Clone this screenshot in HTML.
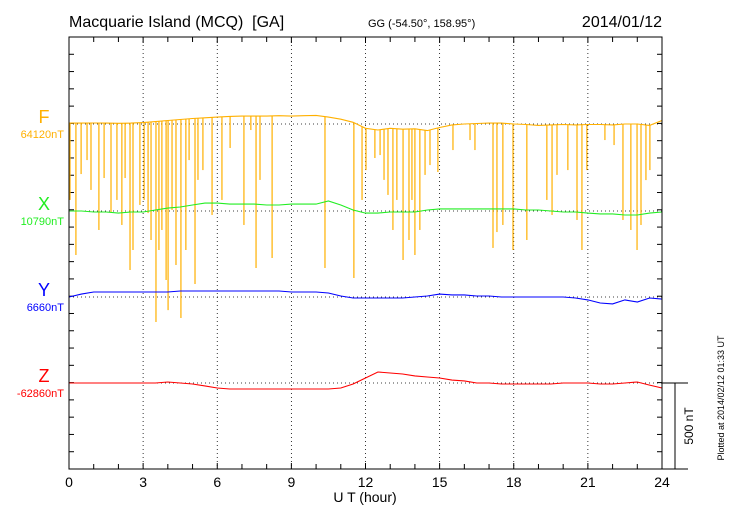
<!DOCTYPE html>
<html><head><meta charset="utf-8"><style>
body{margin:0;background:#fff;width:730px;height:520px;overflow:hidden;font-family:"Liberation Sans",sans-serif}
svg text{font-family:"Liberation Sans",sans-serif;white-space:pre}
</style></head><body>
<svg id="chart" width="730" height="520" xmlns="http://www.w3.org/2000/svg">
<text x="69" y="27" font-size="16" xml:space="preserve">Macquarie Island (MCQ)  [GA]</text>
<text x="368" y="27" font-size="11">GG (-54.50°, 158.95°)</text>
<text x="662" y="27" font-size="16" text-anchor="end">2014/01/12</text>
<text x="365" y="502" font-size="14" text-anchor="middle">U T (hour)</text>
<text transform="translate(724,398) rotate(-90)" font-size="9" text-anchor="middle">Plotted at 2014/02/12 01:33 UT</text>
<g id="g"></g>
</svg>
<script>
const hours=[0,0.5,1,1.5,2,2.5,3,3.5,4,4.5,5,5.5,6,6.5,7,7.5,8,8.5,9,9.5,10,10.5,11,11.5,12,12.5,13,13.5,14,14.5,15,15.5,16,16.5,17,17.5,18,18.5,19,19.5,20,20.5,21,21.5,22,22.5,23,23.5,24];
const fValues=[5,5,6,5,4,5,8,14,20,26,32,36,40,44,46,46,46,48,46,48,50,40,28,10,-25,-35,-25,-30,-28,-38,-20,-5,0,3,5,5,0,-3,-8,-5,-3,-5,-3,-3,-5,0,0,-8,20];
const xValues=[0,0,-6,-6,-12,-6,-6,6,17,23,35,46,46,40,40,40,35,35,40,40,40,58,35,6,-12,-12,-6,-6,-6,6,12,12,12,12,12,12,12,6,6,0,-6,-6,-12,-17,-17,-23,-23,-12,-6];
const yValues=[0,17,29,29,29,29,29,29,29,35,35,35,35,35,35,35,35,35,29,29,29,23,6,-6,-6,-6,-6,-6,0,6,17,12,12,6,6,0,0,0,0,0,0,-6,-17,-35,-40,-17,-29,-6,-12];
const zValues=[0,0,0,0,0,0,0,0,6,0,-6,-17,-29,-35,-35,-35,-35,-35,-35,-35,-35,-35,-29,-6,29,64,58,52,41,35,29,17,12,0,0,-6,-6,-6,-6,-6,0,0,0,-6,-6,0,6,-12,-29];
const spikeHours=[0.04,0.28,0.49,0.73,0.89,1.21,1.42,1.70,1.94,2.14,2.27,2.47,2.59,2.87,3.04,3.20,3.32,3.52,3.64,3.76,3.93,4.01,4.17,4.33,4.53,4.73,4.86,5.10,5.22,5.42,5.79,6.19,6.52,7.08,7.36,7.57,7.73,8.22,10.36,11.53,11.86,12.02,12.38,12.59,12.75,12.91,13.11,13.27,13.52,13.76,13.88,14.00,14.20,14.41,14.61,14.93,15.54,16.23,16.43,17.16,17.32,17.56,17.97,18.53,19.34,19.55,19.75,20.19,20.56,20.76,20.96,21.69,22.06,22.42,22.74,22.99,23.15,23.35,23.51];
const spikeMins=[-440,-759,-290,-209,-382,-614,-313,-510,-440,-585,-313,-846,-730,-469,-440,-516,-672,-1147,-730,-614,-904,-1078,-498,-817,-1124,-730,-209,-927,-324,-267,-527,-440,-139,-585,-35,-834,-324,-776,-834,-892,-440,-267,-197,-180,-324,-411,-614,-440,-788,-672,-440,-759,-614,-295,-238,-278,-151,-93,-151,-718,-626,-585,-730,-672,-440,-527,-295,-267,-556,-730,-267,-93,-122,-556,-614,-730,-585,-325,-267];
const xTicks=[0,3,6,9,12,15,18,21,24];
const series=[
 {name:'F',base:'64120nT',vals:fValues,color:'#ffb000',by:124},
 {name:'X',base:'10790nT',vals:xValues,color:'#22ee22',by:211},
 {name:'Y',base:'6660nT',vals:yValues,color:'#0000ff',by:297},
 {name:'Z',base:'-62860nT',vals:zValues,color:'#ff0000',by:383}];
const L=69,R=662,T=37,B=469,K=86.3/500;
const sx=h=>L+h/24*(R-L);
const NS='http://www.w3.org/2000/svg';
const g=document.getElementById('g');
function el(t,a){const e=document.createElementNS(NS,t);for(const k in a)e.setAttribute(k,a[k]);g.appendChild(e);return e;}
function interp(arr,h){const i=Math.min(Math.floor(h/0.5),arr.length-2);const f=(h-hours[i])/0.5;return arr[i]+(arr[i+1]-arr[i])*f;}
xTicks.slice(1,-1).forEach(h=>{const e=el('line',{x1:sx(h),x2:sx(h),y1:T,y2:B,stroke:'#000','stroke-width':0.8,'stroke-dasharray':'1,3'});

});
series.forEach(s=>{const e=el('line',{x1:L,x2:R,y1:s.by,y2:s.by,stroke:'#000','stroke-width':0.8,'stroke-dasharray':'1,3'});

});
for(let h=0;h<=24;h++){const x=sx(h);const len=h%3==0?6:5;
 const a=el('line',{x1:x,x2:x,y1:B,y2:B-len,stroke:'#000'});
 
 
 const b=el('line',{x1:x,x2:x,y1:T,y2:T+len,stroke:'#000'});
 
 }
for(let i=0;i<=25;i++){const y=T+i*(B-T)/25;
 const a=el('line',{x1:L,x2:L+5,y1:y,y2:y,stroke:'#000'});
 
 
 const b=el('line',{x1:R,x2:R-5,y1:y,y2:y,stroke:'#000'});
 
 }
xTicks.forEach(h=>{const t=el('text',{x:sx(h),y:487,'font-size':14,'text-anchor':'middle'});t.textContent=h;
 
 });
spikeHours.forEach((h,i)=>{const x=sx(h);const top=124-interp(fValues,h)*K;
 const e=el('line',{x1:x,x2:x,y1:top,y2:124-spikeMins[i]*K,stroke:'#ffb000','stroke-width':1.2});
 
 });
series.forEach(s=>{
 const pts=hours.map((h,i)=>sx(h).toFixed(1)+','+(s.by-s.vals[i]*K).toFixed(1)).join(' ');
 const p=el('polyline',{points:pts,fill:'none',stroke:s.color,'stroke-width':1.1});
 
 
 const n=el('text',{x:44,y:s.by-1,'font-size':18,fill:s.color,'text-anchor':'middle'});n.textContent=s.name;
 
 
 const b=el('text',{x:64,y:s.by+14,'font-size':11,fill:s.color,'text-anchor':'end'});b.textContent=s.base;
 
 
});
const fr=el('rect',{x:L,y:T,width:R-L,height:B-T,fill:'none',stroke:'#000'});


const s1=el('line',{x1:R,x2:688,y1:383,y2:383,stroke:'#000'});


const s2=el('line',{x1:R,x2:688,y1:B,y2:B,stroke:'#000'});


const s3=el('line',{x1:675,x2:675,y1:383,y2:B,stroke:'#000'});


const st=el('text',{transform:'translate(693,426) rotate(-90)','font-size':12,'text-anchor':'middle'});st.textContent='500 nT';


</script>
</body></html>
